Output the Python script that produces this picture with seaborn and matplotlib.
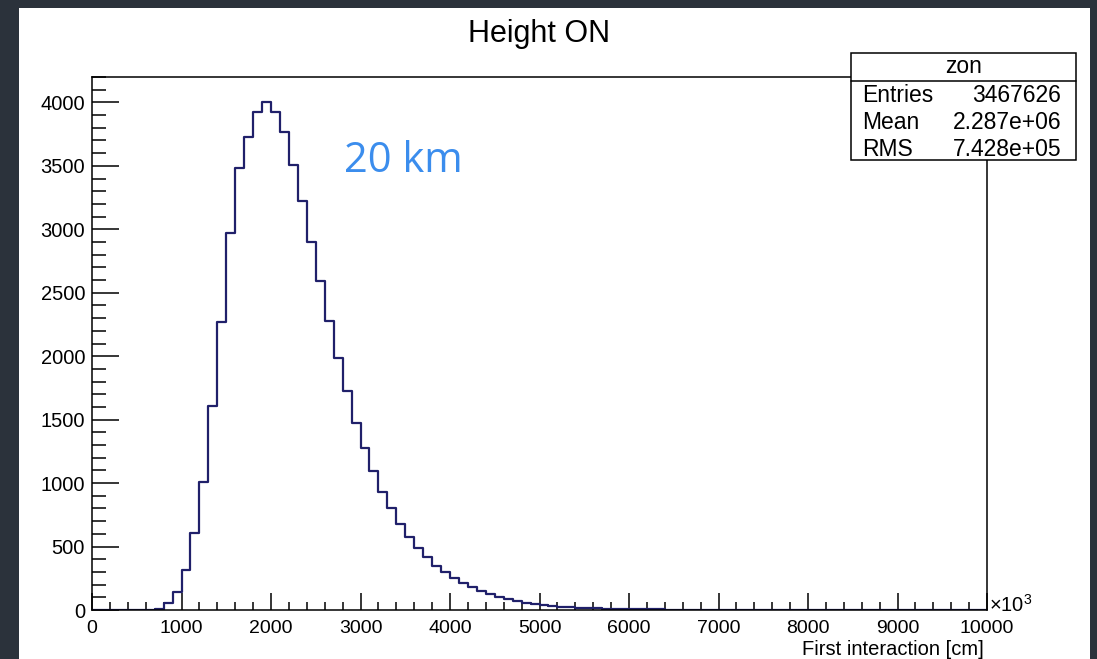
import numpy as np
import pandas as pd
import matplotlib
matplotlib.use("Agg")
import matplotlib.pyplot as plt
import seaborn as sns
from matplotlib.patches import Rectangle
from matplotlib.lines import Line2D
from matplotlib.ticker import MultipleLocator, FixedLocator

# ---------------- data ----------------
title = "Height ON"
x_label = "First interaction [cm]"
annotation = "20 km"
hist_name = "zon"
stat_names = ["Entries", "Mean", "RMS"]
stat_values = ["3467626", "2.287e+06", "7.428e+05"]

bin_edges = list(range(0, 10001, 100))          # x in units of 10^3 cm
counts = [
    0, 0, 0, 0, 0, 0, 2, 10, 55, 140,
    315, 604, 1006, 1608, 2272, 2974, 3481, 3725, 3922, 4001,
    3922, 3765, 3507, 3222, 2903, 2594, 2276, 1984, 1728, 1476,
    1279, 1098, 928, 802, 675, 578, 491, 420, 349, 297,
    250, 212, 181, 152, 126, 105, 87, 71, 58, 47,
    39, 31, 26, 21, 17, 14, 12, 10, 8, 7,
    6, 5, 4, 4, 3, 3, 2, 2, 2, 1,
    1, 1, 1, 0, 0, 0, 0, 0, 0, 0,
    0, 0, 0, 0, 0, 0, 0, 0, 0, 0,
    0, 0, 0, 0, 0, 0, 0, 0, 0, 0,
]
x_ticks = [0, 1000, 2000, 3000, 4000, 5000, 6000, 7000, 8000, 9000, 10000]
y_ticks = [0, 500, 1000, 1500, 2000, 2500, 3000, 3500, 4000]

# ---------------- style ----------------
sns.set_style("white")
plt.rcParams["font.family"] = ["Liberation Sans", "DejaVu Sans"]
plt.rcParams["mathtext.fontset"] = "custom"
plt.rcParams["mathtext.rm"] = "Liberation Sans"
plt.rcParams["mathtext.it"] = "Liberation Sans:italic"
for k in ["text.color", "axes.labelcolor", "xtick.color", "ytick.color",
          "xtick.labelcolor", "ytick.labelcolor"]:
    plt.rcParams[k] = "black"

W, H = 1097, 659
def fx(px):
    return px / W
def fy(py):
    return 1 - py / H

line_color = "#20206a"
fig = plt.figure(figsize=(W / 100, H / 100), dpi=100, facecolor="#2b323b")
fig.add_artist(Rectangle((fx(19), 0), fx(1090) - fx(19), fy(8), transform=fig.transFigure,
                         facecolor="white", edgecolor="none", zorder=-10))

ax = fig.add_axes([fx(92), fy(610), fx(987) - fx(92), fy(77) - fy(610)])
ax.set_facecolor("white")

centers = [(bin_edges[i] + bin_edges[i + 1]) / 2 for i in range(len(counts))]
df = pd.DataFrame({"x": centers, "n": counts})
sns.histplot(data=df, x="x", weights="n", bins=bin_edges, element="step", fill=False,
             color=line_color, linewidth=1.6, ax=ax, legend=False)

ax.set_xlim(0, 10000)
ax.set_ylim(0, 4200)
ax.set_ylabel("")
ax.set_xlabel(x_label, fontsize=14.5, ha="right", color="black")
ax.xaxis.set_label_coords(1 - 3 / 895, -(640 - 610) / 533)
ax.xaxis.label.set_va("top")

ax.xaxis.set_major_locator(FixedLocator(x_ticks))
ax.set_xticklabels([str(t) for t in x_ticks])
ax.xaxis.set_minor_locator(MultipleLocator(200))
ax.yaxis.set_major_locator(FixedLocator(y_ticks))
ax.set_yticklabels([str(t) for t in y_ticks])
ax.yaxis.set_minor_locator(MultipleLocator(100))

ax.tick_params(axis="x", which="major", direction="in", length=12, width=1.1, pad=7,
               labelsize=14, bottom=True, top=False, color="black", labelcolor="black")
ax.tick_params(axis="x", which="minor", direction="in", length=6, width=1.1,
               bottom=True, top=False, color="black")
ax.tick_params(axis="y", which="major", direction="in", length=19.5, width=1.1, pad=5,
               labelsize=14.5, left=True, right=False, color="black", labelcolor="black")
ax.tick_params(axis="y", which="minor", direction="in", length=9.9, width=1.1,
               left=True, right=False, color="black")
for s in ax.spines.values():
    s.set_visible(True)
    s.set_color("black")
    s.set_linewidth(1.1)

# exponent marker
ax.text(1 + 2 / 895, -2 / 533, r"$\times10^{3}$", transform=ax.transAxes,
        ha="left", va="baseline", fontsize=14.5, color="black")

# title
fig.text(fx(539.5), fy(34), title, ha="center", va="center", fontsize=22, color="black")

# annotation
fig.text(fx(344), fy(172), annotation, ha="left", va="baseline", fontsize=30,
         color="#3b8ded", family=["Open Sans", "DejaVu Sans"])

# stats box
fig.add_artist(Rectangle((fx(851), fy(160)), fx(1076) - fx(851), fy(53) - fy(160),
                         transform=fig.transFigure, facecolor="white", edgecolor="black",
                         linewidth=1.1, zorder=5))
fig.add_artist(Line2D([fx(851), fx(1076)], [fy(81), fy(81)], transform=fig.transFigure,
                      color="black", linewidth=1.1, zorder=6))
fig.text(fx(963.5), fy(73), hist_name, ha="center", va="baseline", fontsize=16.5,
         color="black", zorder=7)
for name, val, base in zip(stat_names, stat_values, [102, 129, 156]):
    fig.text(fx(862), fy(base), name, ha="left", va="baseline", fontsize=16.5,
             color="black", zorder=7)
    fig.text(fx(1061), fy(base), val, ha="right", va="baseline", fontsize=16.5,
             color="black", zorder=7)

fig.savefig("out.png", dpi=100, facecolor=fig.get_facecolor())
